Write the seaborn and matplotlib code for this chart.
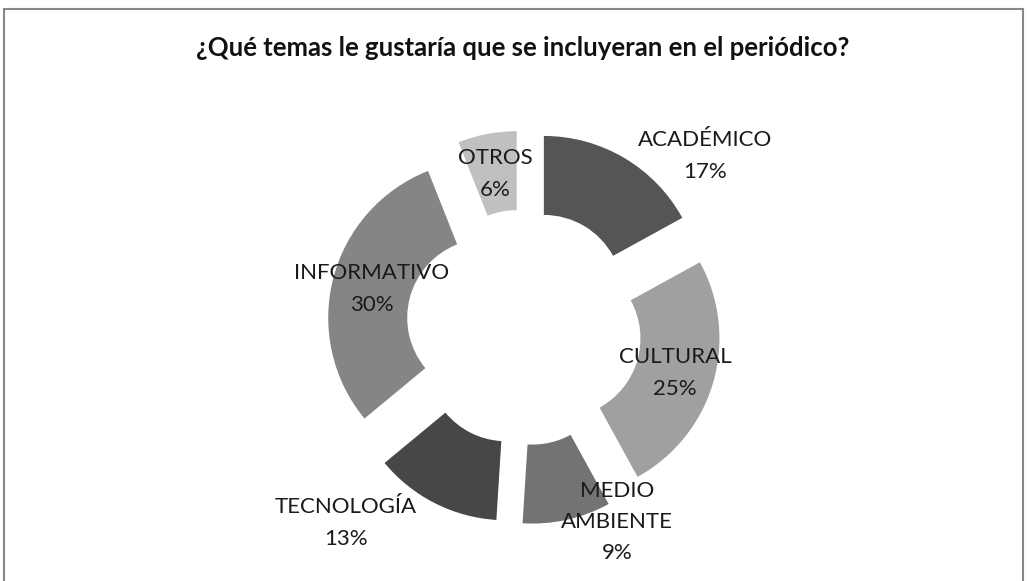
import matplotlib
matplotlib.use("Agg")
import matplotlib.pyplot as plt
import matplotlib.patches as mpatches
import seaborn as sns
import numpy as np

# datos del gráfico
categorias = ["ACADÉMICO", "CULTURAL", "MEDIO\nAMBIENTE", "TECNOLOGÍA", "INFORMATIVO", "OTROS"]
porcentajes = [17, 25, 9, 13, 30, 6]
colores = ["#555555", "#a0a0a0", "#737373", "#474747", "#858585", "#c0c0c0"]

# posiciones de las etiquetas (pixeles de la imagen)
pos_etiquetas = [(705, 156), (675, 373), (617, 522), (346, 523), (372, 289), (495, 174)]

sns.set_theme(style="white")
plt.rcParams["font.family"] = ["Lato", "DejaVu Sans"]

W, H = 1029, 581
fig = plt.figure(figsize=(W / 100, H / 100), dpi=100)
ax = fig.add_axes([0, 0, 1, 1])

centro = (524, H - 327.5)
radio = 158
ax.pie(porcentajes, colors=colores, startangle=90, counterclock=False,
       center=centro, radius=radio, explode=[39] * len(porcentajes),
       wedgeprops=dict(width=79, linewidth=0))

for cat, pct, (px, py) in zip(categorias, porcentajes, pos_etiquetas):
    ax.text(px, H - py, f"{cat}\n{pct}%", ha="center", va="center",
            fontsize=16, color="#1a1a1a", linespacing=1.7)

ax.set_xlim(0, W)
ax.set_ylim(0, H)
ax.set_aspect("equal")
ax.axis("off")

# marco
fig.patches.append(mpatches.Rectangle((3.5 / W, -0.1), (1023 - 3.5) / W, 1.1 - 9.5 / H,
                                      transform=fig.transFigure, fill=False,
                                      edgecolor="#888888", linewidth=1.5))

fig.text(523 / W, 1 - 48 / H, "¿Qué temas le gustaría que se incluyeran en el periódico?",
         ha="center", va="center", fontsize=18.5, fontweight="bold", color="#111111")

fig.savefig("out.png", dpi=100, facecolor="white")
